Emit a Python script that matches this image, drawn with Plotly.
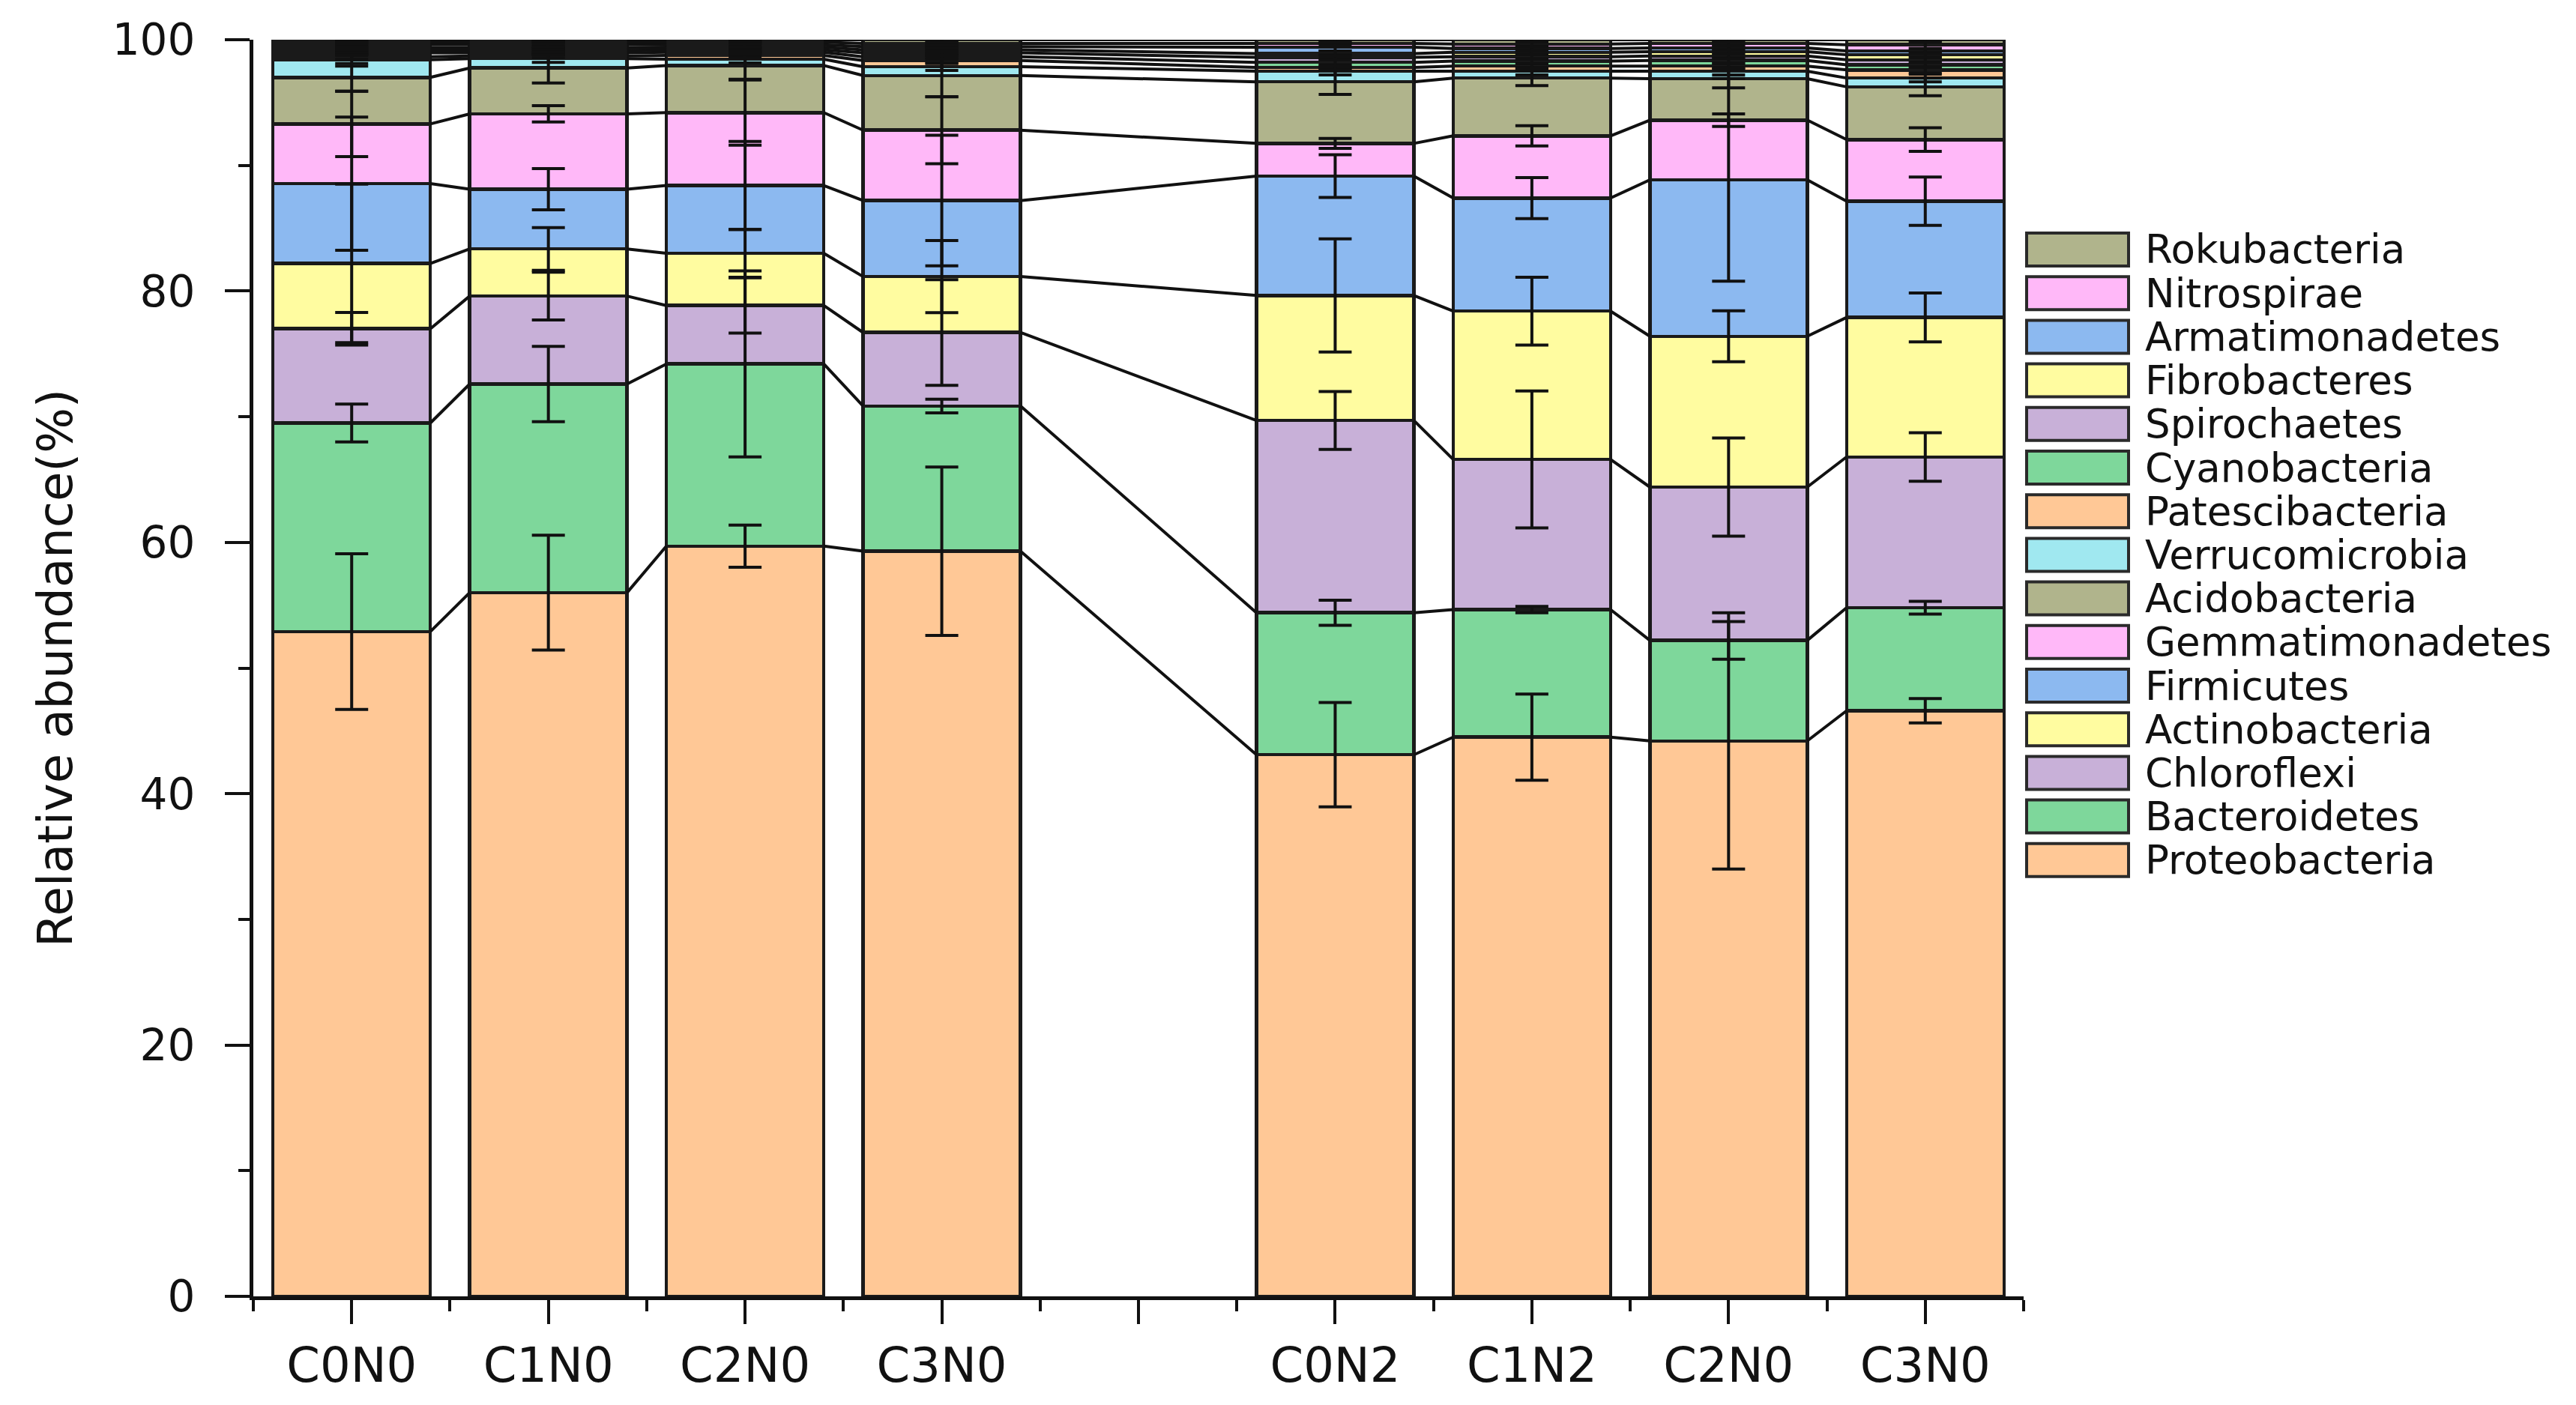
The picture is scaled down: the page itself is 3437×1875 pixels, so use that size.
import numpy as np
import plotly.graph_objects as go

# ---------------- data ----------------
positions = [1, 2, 3, 4, 6, 7, 8, 9]
samples = ["C0N0", "C1N0", "C2N0", "C3N0", "C0N2", "C1N2", "C2N0", "C3N0"]
tick_positions = [1, 2, 3, 4, 5, 6, 7, 8, 9]
tick_labels = ["C0N0", "C1N0", "C2N0", "C3N0", "", "C0N2", "C1N2", "C2N0", "C3N0"]

phyla = ["Proteobacteria", "Bacteroidetes", "Chloroflexi", "Actinobacteria",
         "Firmicutes", "Gemmatimonadetes", "Acidobacteria", "Verrucomicrobia",
         "Patescibacteria", "Cyanobacteria", "Spirochaetes", "Fibrobacteres",
         "Armatimonadetes", "Nitrospirae", "Rokubacteria"]

Proteobacteria   = [52.9, 56.0, 59.7, 59.3, 43.1, 44.5, 44.2, 46.6]
Bacteroidetes    = [16.6, 16.6, 14.5, 11.55, 11.3, 10.15, 8.0, 8.2]
Chloroflexi      = [7.5, 7.0, 4.65, 5.85, 15.3, 11.95, 12.2, 12.0]
Actinobacteria   = [5.2, 3.75, 4.15, 4.45, 9.95, 11.8, 12.0, 11.1]
Firmicutes       = [6.35, 4.75, 5.4, 6.05, 9.5, 9.0, 12.45, 9.25]
Gemmatimonadetes = [4.75, 6.0, 5.8, 5.6, 2.6, 4.95, 4.75, 4.9]
Acidobacteria    = [3.7, 3.65, 3.75, 4.35, 4.9, 4.6, 3.3, 4.2]
Verrucomicrobia  = [1.4, 0.75, 0.5, 0.7, 0.85, 0.55, 0.6, 0.7]
Patescibacteria  = [0.25, 0.2, 0.3, 0.5, 0.3, 0.4, 0.4, 0.65]
Cyanobacteria    = [0.3, 0.25, 0.25, 0.3, 0.4, 0.4, 0.45, 0.4]
Spirochaetes     = [0.2, 0.2, 0.2, 0.3, 0.4, 0.35, 0.35, 0.4]
Fibrobacteres    = [0.2, 0.2, 0.2, 0.25, 0.3, 0.35, 0.35, 0.4]
Armatimonadetes  = [0.25, 0.25, 0.2, 0.25, 0.5, 0.3, 0.3, 0.3]
Nitrospirae      = [0.2, 0.2, 0.2, 0.25, 0.3, 0.35, 0.35, 0.5]
Rokubacteria     = [0.2, 0.2, 0.2, 0.3, 0.3, 0.35, 0.3, 0.4]

sd_Proteobacteria   = [6.2, 4.57, 1.68, 6.7, 4.15, 3.43, 10.2, 0.97]
sd_Bacteroidetes    = [1.5, 3.0, 7.4, 0.54, 1.0, 0.25, 1.5, 0.5]
sd_Chloroflexi      = [1.3, 1.9, 2.2, 4.2, 2.3, 5.45, 3.9, 1.93]
sd_Actinobacteria   = [6.3, 1.7, 1.9, 2.87, 4.5, 2.7, 2.03, 1.95]
sd_Firmicutes       = [5.3, 1.64, 3.5, 5.2, 1.7, 1.63, 8.07, 1.92]
sd_Gemmatimonadetes = [2.6, 0.65, 2.6, 2.67, 0.4, 0.8, 0.5, 0.94]
sd_Acidobacteria    = [1.1, 1.2, 1.1, 1.7, 1.0, 0.6, 0.73, 0.7]
sd_Verrucomicrobia  = [0.5, 0.3, 0.3, 0.3, 0.3, 0.3, 0.3, 0.3]
sd_Patescibacteria  = [0.2, 0.15, 0.2, 0.25, 0.2, 0.2, 0.2, 0.25]
sd_Cyanobacteria    = [0.2, 0.15, 0.15, 0.2, 0.25, 0.2, 0.2, 0.2]
sd_Spirochaetes     = [0.15, 0.15, 0.15, 0.2, 0.2, 0.2, 0.2, 0.2]
sd_Fibrobacteres    = [0.15, 0.1, 0.1, 0.15, 0.2, 0.2, 0.2, 0.2]
sd_Armatimonadetes  = [0.2, 0.15, 0.15, 0.15, 0.3, 0.2, 0.2, 0.2]
sd_Nitrospirae      = [0.15, 0.1, 0.1, 0.15, 0.2, 0.2, 0.2, 0.3]
sd_Rokubacteria     = [0.15, 0.1, 0.1, 0.2, 0.2, 0.2, 0.2, 0.2]

values = [Proteobacteria, Bacteroidetes, Chloroflexi, Actinobacteria, Firmicutes,
          Gemmatimonadetes, Acidobacteria, Verrucomicrobia, Patescibacteria,
          Cyanobacteria, Spirochaetes, Fibrobacteres, Armatimonadetes,
          Nitrospirae, Rokubacteria]
sds = [sd_Proteobacteria, sd_Bacteroidetes, sd_Chloroflexi, sd_Actinobacteria,
       sd_Firmicutes, sd_Gemmatimonadetes, sd_Acidobacteria, sd_Verrucomicrobia,
       sd_Patescibacteria, sd_Cyanobacteria, sd_Spirochaetes, sd_Fibrobacteres,
       sd_Armatimonadetes, sd_Nitrospirae, sd_Rokubacteria]

palette = ["#FFC896", "#7ED79B", "#C8B0D8", "#FFFCA0",
           "#8CB9F0", "#FFB8F8", "#B0B48C", "#A0E8F0"]
colors = [palette[i % 8] for i in range(len(phyla))]

# ---------------- style ----------------
FONT = "DejaVu Sans"
W, H = 3437, 1875
L, R, T, B = 330, 745, 45, 153
BAR_W = 0.8
EDGE = "#1a1a1a"

fig = go.Figure()

cum = np.cumsum(np.array(values, dtype=float), axis=0)

# stacked bars
for k, name in enumerate(phyla):
    fig.add_trace(go.Bar(
        x=positions, y=values[k], name=name, width=BAR_W,
        marker=dict(color=colors[k], line=dict(color=EDGE, width=4.5)),
        showlegend=False, hoverinfo="skip"))

# connector lines between adjacent bars (segment tops)
lx, ly = [], []
for k in range(len(phyla)):
    for i in range(len(positions) - 1):
        lx += [positions[i] + BAR_W / 2, positions[i + 1] - BAR_W / 2, None]
        ly += [cum[k][i], cum[k][i + 1], None]
fig.add_trace(go.Scatter(x=lx, y=ly, mode="lines",
                         line=dict(color="#111111", width=4),
                         showlegend=False, hoverinfo="skip", cliponaxis=False))

# error bars at segment tops
for k, name in enumerate(phyla):
    fig.add_trace(go.Scatter(
        x=positions, y=cum[k], mode="markers",
        marker=dict(size=1, color="rgba(0,0,0,0)"),
        error_y=dict(type="data", array=sds[k], visible=True,
                     color="#111111", thickness=4, width=22),
        showlegend=False, hoverinfo="skip", cliponaxis=False))

# manual legend (Rokubacteria on top, Proteobacteria at the bottom)
plot_w = W - L - R
plot_h = H - T - B
def px_x(px):
    return (px - L) / plot_w
def px_y(py):
    return (H - B - py) / plot_h

shapes, annotations = [], []
for i, k in enumerate(range(len(phyla) - 1, -1, -1)):
    cy = 325 + 58.2 * i
    shapes.append(dict(type="rect", xref="paper", yref="paper",
                       x0=px_x(2696), x1=px_x(2832),
                       y0=px_y(cy + 22), y1=px_y(cy - 22),
                       fillcolor=colors[k], line=dict(color="#2a2a2a", width=4)))
    annotations.append(dict(xref="paper", yref="paper", x=px_x(2852), y=px_y(cy),
                            text=phyla[k], showarrow=False, xanchor="left",
                            yanchor="middle",
                            font=dict(family=FONT, size=53, color="#111111")))

fig.update_layout(
    width=W, height=H,
    margin=dict(l=L, r=R, t=T, b=B, autoexpand=False),
    barmode="stack", bargap=0.2,
    plot_bgcolor="white", paper_bgcolor="white",
    font=dict(family=FONT, color="#111111"),
    shapes=shapes, annotations=annotations,
    xaxis=dict(range=[0.5, 9.5], tickmode="array", tickvals=tick_positions,
               ticktext=tick_labels, ticks="outside", ticklen=32, tickwidth=4,
               tickcolor="#111111", showline=True, linecolor="#111111",
               linewidth=5, showgrid=False, zeroline=False,
               tickfont=dict(family=FONT, size=64, color="#111111"),
               ticklabelstandoff=0,
               minor=dict(tick0=0.5, dtick=1, ticks="outside", ticklen=15,
                          tickwidth=4, tickcolor="#111111", showgrid=False)),
    yaxis=dict(range=[0, 100], tickmode="linear", tick0=0, dtick=20,
               ticks="outside", ticklen=33, tickwidth=4, tickcolor="#111111",
               showline=True, linecolor="#111111", linewidth=5,
               showgrid=False, zeroline=False,
               tickfont=dict(family=FONT, size=58, color="#111111"),
               ticklabelstandoff=28,
               minor=dict(dtick=10, ticks="outside", ticklen=15, tickwidth=4,
                          tickcolor="#111111", showgrid=False),
               title=dict(text="Relative abundance(%)",
                          font=dict(family=FONT, size=64, color="#111111"),
                          standoff=34)),
)

fig.write_html("out.html")
